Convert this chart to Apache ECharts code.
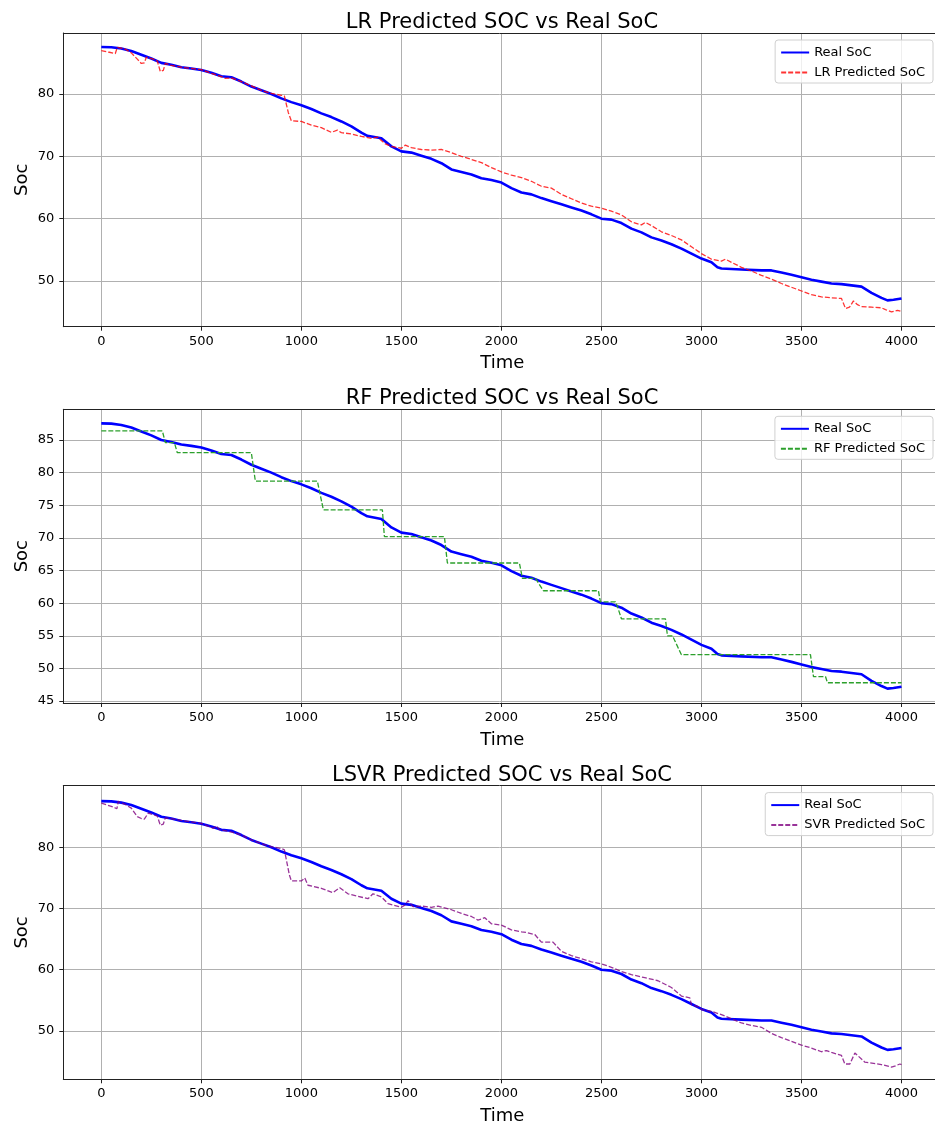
<!DOCTYPE html>
<html>
<head>
<meta charset="utf-8">
<script src="https://cdn.jsdelivr.net/npm/echarts@6/dist/echarts.min.js"></script>
<style>
    html, body { margin: 0; padding: 0; background: #fff; }
    #main { width: 935px; height: 1126px; }
</style>
</head>
<body>
<div id="main"></div>
<script>
// 真实 SoC
var realTime = [0, 50, 100, 150, 200, 250, 300, 350, 400, 450, 500, 550, 600, 650, 700, 750, 800, 850, 900, 950,
    1000, 1050, 1100, 1150, 1200, 1250, 1300, 1330, 1400, 1450, 1500, 1550, 1600, 1650, 1700, 1750, 1800, 1850, 1900, 1950,
    2000, 2050, 2100, 2150, 2200, 2250, 2300, 2350, 2400, 2450, 2500, 2550, 2600, 2650, 2700, 2750, 2800, 2850, 2900, 2950,
    3000, 3050, 3080, 3100, 3200, 3300, 3350, 3400, 3450, 3500, 3550, 3600, 3650, 3700, 3750, 3800, 3850, 3900, 3930, 3960, 4000];
var realSoc = [87.55, 87.5, 87.3, 86.9, 86.3, 85.7, 85.0, 84.7, 84.3, 84.1, 83.85, 83.4, 82.85, 82.7, 82.0, 81.2, 80.6, 80.0, 79.3, 78.7,
    78.2, 77.6, 76.9, 76.3, 75.6, 74.8, 73.8, 73.3, 72.9, 71.6, 70.8, 70.6, 70.1, 69.6, 68.9, 67.9, 67.5, 67.1, 66.5, 66.2,
    65.8, 64.9, 64.2, 63.9, 63.3, 62.8, 62.3, 61.8, 61.3, 60.7, 60.0, 59.85, 59.3, 58.4, 57.8, 57.0, 56.5, 55.9, 55.2, 54.4,
    53.6, 53.0, 52.2, 52.0, 51.85, 51.7, 51.7, 51.35, 51.0, 50.6, 50.2, 49.9, 49.6, 49.5, 49.3, 49.1, 48.1, 47.3, 46.9, 47.0, 47.2];

// LR 预测
var lrTime = [0, 40, 70, 80, 120, 150, 180, 200, 215, 225, 260, 280, 295, 310, 320, 350, 400, 500, 550, 600, 620, 650, 700, 750, 800, 850, 900, 915, 935, 950,
    1000, 1050, 1100, 1150, 1180, 1200, 1250, 1300, 1350, 1380, 1420, 1450, 1500, 1520, 1550, 1600, 1650, 1700, 1750, 1800, 1850, 1900, 1950,
    2000, 2050, 2100, 2150, 2200, 2250, 2300, 2350, 2400, 2450, 2500, 2550, 2600, 2650, 2700, 2720, 2750, 2800, 2850, 2900, 2950,
    3000, 3050, 3100, 3120, 3150, 3200, 3250, 3300, 3350, 3400, 3450, 3500, 3550, 3600, 3650, 3700, 3720, 3740, 3760, 3780, 3800, 3850, 3900, 3920, 3950, 3980, 4000];
var lrSoc = [86.95, 86.7, 86.5, 87.5, 87.2, 86.6, 85.6, 84.9, 85.0, 85.9, 85.6, 85.3, 83.6, 83.8, 84.9, 84.6, 84.3, 83.9, 83.3, 82.8, 82.5, 82.6, 82.0, 81.3, 80.6, 80.1, 79.8, 79.7, 77.0, 75.7,
    75.6, 75.0, 74.6, 73.85, 74.2, 73.8, 73.6, 73.2, 72.9, 73.1, 72.0, 71.6, 71.3, 71.8, 71.4, 71.1, 71.0, 71.1, 70.6, 70.0, 69.5, 69.0, 68.2,
    67.5, 67.0, 66.6, 66.0, 65.2, 64.9, 63.9, 63.2, 62.5, 62.0, 61.7, 61.2, 60.6, 59.5, 59.0, 59.4, 58.9, 57.9, 57.3, 56.6, 55.5,
    54.4, 53.5, 53.2, 53.5, 53.0, 52.2, 51.6, 50.9, 50.3, 49.6, 49.0, 48.4, 47.8, 47.45, 47.3, 47.2, 45.6, 45.8, 46.8, 46.2, 45.9, 45.8, 45.7, 45.4, 45.05, 45.3, 45.1];

// RF 预测 (阶梯)
var rfTime = [0, 305, 320, 365, 380, 750, 770, 1080, 1110, 1405, 1415, 1715, 1730, 2090, 2105, 2170, 2210, 2485, 2495, 2570, 2580, 2600,
    2820, 2830, 2855, 2900, 3545, 3560, 3620, 3630, 4000];
var rfSoc = [86.4, 86.4, 84.6, 84.6, 83.05, 83.05, 78.7, 78.7, 74.3, 74.3, 70.2, 70.2, 66.15, 66.15, 63.8, 63.8, 61.9, 61.9, 60.2, 60.2, 59.5, 57.6,
    57.6, 55.0, 55.0, 52.1, 52.1, 48.75, 48.75, 47.8, 47.8];

// SVR 预测
var svrTime = [0, 50, 78, 85, 120, 150, 180, 200, 215, 235, 280, 295, 310, 320, 400, 500, 560, 575, 590, 650, 700, 750, 800, 850, 900, 915, 940, 950,
    1000, 1017, 1033, 1100, 1158, 1192, 1233, 1333, 1358, 1400, 1433, 1500, 1520, 1533, 1558, 1600, 1650, 1683, 1750, 1800, 1850, 1883, 1917, 1950,
    2000, 2050, 2100, 2125, 2167, 2200, 2258, 2300, 2350, 2400, 2450, 2500, 2550, 2600, 2650, 2717, 2783, 2850, 2900, 2942, 2950, 2992,
    3000, 3050, 3100, 3150, 3200, 3250, 3300, 3350, 3400, 3450, 3500, 3550, 3600, 3625, 3650, 3700, 3717, 3742, 3767, 3817, 3900, 3950, 3970, 3992, 4000];
var svrSoc = [87.2, 86.7, 86.3, 87.5, 87.0, 86.4, 85.0, 84.7, 84.6, 85.6, 85.1, 83.6, 83.8, 84.8, 84.4, 83.9, 83.1, 83.5, 82.9, 82.5, 82.0, 81.2, 80.6, 80.1, 79.8, 79.6, 75.5, 74.5,
    74.5, 75.0, 73.8, 73.3, 72.6, 73.4, 72.4, 71.6, 72.4, 71.9, 70.8, 70.2, 70.6, 71.3, 70.3, 70.4, 70.2, 70.4, 69.8, 69.2, 68.7, 68.1, 68.5, 67.5,
    67.3, 66.5, 66.2, 66.1, 65.75, 64.5, 64.5, 63.0, 62.3, 61.8, 61.3, 60.95, 60.4, 59.7, 59.2, 58.7, 58.2, 57.1, 55.7, 55.4, 54.3, 53.9,
    53.5, 53.2, 52.65, 52.0, 51.3, 50.9, 50.6, 49.6, 48.9, 48.3, 47.7, 47.2, 46.6, 46.8, 46.5, 46.0, 44.6, 44.6, 46.4, 44.9, 44.5, 44.1, 44.3, 44.6, 44.5];

var titles = ['LR Predicted SOC vs Real SoC', 'RF Predicted SOC vs Real SoC', 'LSVR Predicted SOC vs Real SoC'];
var predNames = ['LR Predicted SoC', 'RF Predicted SoC', 'SVR Predicted SoC'];
var xTicks = [0, 500, 1000, 1500, 2000, 2500, 3000, 3500, 4000];
var yTicks = [[50, 60, 70, 80], [45, 50, 55, 60, 65, 70, 75, 80, 85], [50, 60, 70, 80]];
var yRange = [[42.67, 89.79], [44.7, 89.7], [42.1, 90.08]];

(function () {
    var font = 'DejaVu Sans';
    var tops = [33, 409.3, 785.6];
    var gridH = 293.7;
    var predColors = ['rgba(255,0,0,0.8)', '#2ca02c', 'rgba(128,0,128,0.8)'];
    var predTime = [lrTime, rfTime, svrTime];
    var predSoc = [lrSoc, rfSoc, svrSoc];

    var zip = function (xs, ys) {
        return xs.map(function (x, i) { return [x, ys[i]]; });
    };

    var option = {
        animation: false,
        backgroundColor: '#fff',
        title: [], grid: [], xAxis: [], yAxis: [], legend: [], series: []
    };

    for (var i = 0; i < 3; i++) {
        option.title.push({
            text: titles[i],
            left: 502, top: tops[i] - 21, padding: 0,
            textAlign: 'center',
            textStyle: { fontFamily: font, fontSize: 21, fontWeight: 'normal', color: '#000' }
        });
        // 右边框在画布外
        option.grid.push({
            left: 63.3, width: 878.2, top: tops[i], height: gridH,
            outerBoundsMode: 'none', containLabel: false
        });
        option.xAxis.push({
            type: 'value', gridIndex: i, min: -190, max: 4200,
            name: 'Time', nameLocation: 'middle', nameGap: 28, nameMoveOverlap: false,
            nameTextStyle: { fontFamily: font, fontSize: 18, color: '#000' },
            axisLine: { show: true, onZero: false, lineStyle: { color: '#222', width: 1 } },
            axisTick: { show: true, length: 4, customValues: xTicks, lineStyle: { color: '#222' } },
            axisLabel: {
                customValues: xTicks, margin: 8, fontFamily: font, fontSize: 13, color: '#000',
                formatter: function (v) { return String(v); }
            },
            splitLine: { show: true, lineStyle: { color: '#b0b0b0', width: 1 } }
        });
        // 上边框
        option.xAxis.push({
            type: 'value', gridIndex: i, position: 'top', min: -190, max: 4200,
            axisLine: { show: true, onZero: false, lineStyle: { color: '#222', width: 1 } },
            axisTick: { show: false }, axisLabel: { show: false }, splitLine: { show: false }
        });
        option.yAxis.push({
            type: 'value', gridIndex: i, min: yRange[i][0], max: yRange[i][1],
            name: 'Soc', nameLocation: 'middle', nameGap: 32, nameMoveOverlap: false,
            nameTextStyle: { fontFamily: font, fontSize: 18, color: '#000' },
            axisLine: { show: true, onZero: false, lineStyle: { color: '#222', width: 1 } },
            axisTick: { show: true, length: 4, customValues: yTicks[i], lineStyle: { color: '#222' } },
            axisLabel: { customValues: yTicks[i], margin: 9, fontFamily: font, fontSize: 13, color: '#000' },
            splitLine: { show: true, lineStyle: { color: '#b0b0b0', width: 1 } }
        });
        option.legend.push({
            data: ['Real SoC', predNames[i]],
            orient: 'vertical', right: 2, top: tops[i] + 7,
            padding: [6, 8, 4, 5], itemGap: 7, itemWidth: 28, itemHeight: 14,
            itemStyle: { opacity: 0 },
            backgroundColor: 'rgba(255,255,255,0.8)', borderColor: '#d0d0d0', borderWidth: 1, borderRadius: 3,
            textStyle: { fontFamily: font, fontSize: 13, color: '#000' }
        });
        option.series.push({
            name: 'Real SoC', type: 'line', xAxisIndex: 2 * i, yAxisIndex: i,
            data: zip(realTime, realSoc), symbol: 'none', smooth: false,
            lineStyle: { color: '#0000ff', width: 2.6 }, itemStyle: { color: '#0000ff' }, z: 2
        });
        option.series.push({
            name: predNames[i], type: 'line', xAxisIndex: 2 * i, yAxisIndex: i,
            data: zip(predTime[i], predSoc[i]), symbol: 'none', smooth: false,
            lineStyle: { color: predColors[i], width: 1.3, type: [5, 2] }, itemStyle: { color: predColors[i] }, z: 3
        });
    }

    var myChart = echarts.init(document.getElementById('main'));
    myChart.setOption(option);
    window.addEventListener('resize', function () {
        myChart.resize();
    });
})();
</script>
</body>
</html>
